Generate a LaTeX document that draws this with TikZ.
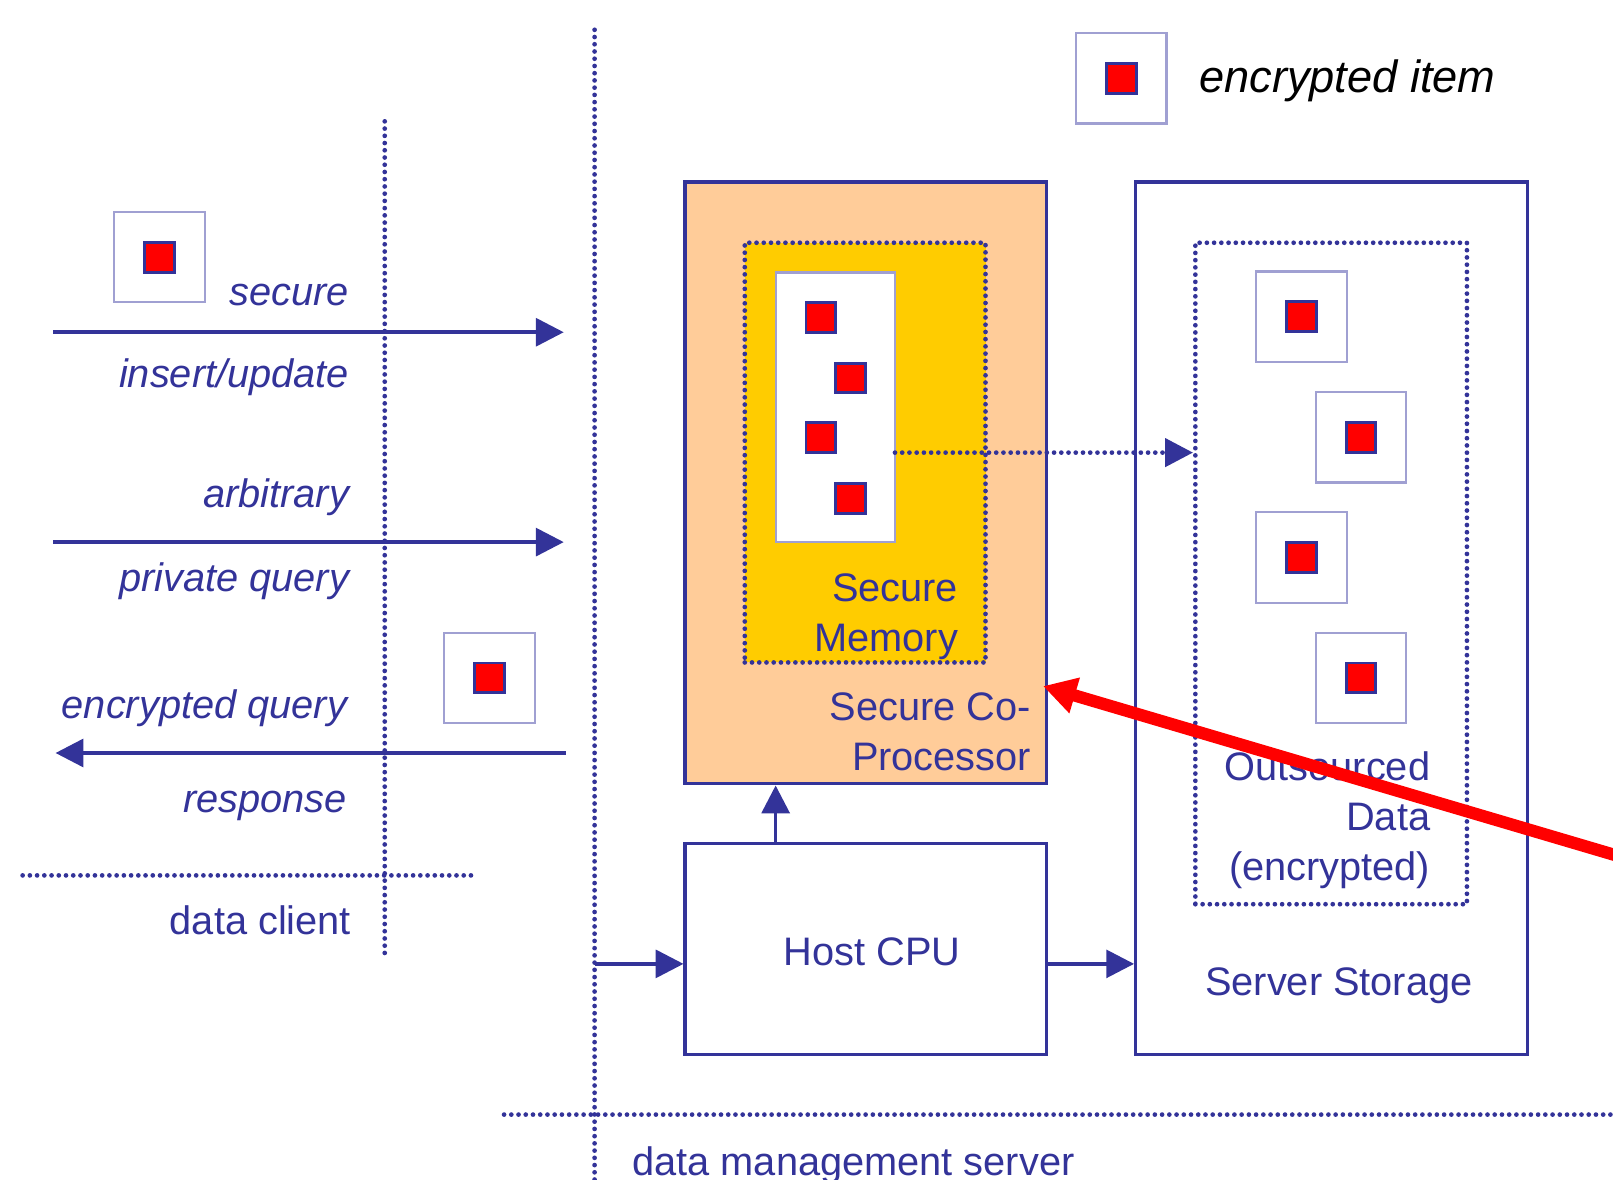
\documentclass[tikz,border=0pt]{standalone}
\usepackage{fontspec}
\setmainfont{Liberation Sans}
\usetikzlibrary{arrows.meta, positioning, calc}

\definecolor{navy}{RGB}{51,51,153}
\definecolor{peach}{RGB}{255,204,153}
\definecolor{gold}{RGB}{255,204,0}
\definecolor{itemedge}{RGB}{160,160,210}
\newcommand{\diagsize}{\fontsize{11pt}{13.8pt}\selectfont}

\begin{document}
\begin{tikzpicture}[
  every node/.style={text=navy, inner sep=0pt, font=\diagsize},
  unit/.style={draw=navy, line width=0.9pt, fill=white},
  region/.style={draw=navy, line width=1.3pt, line cap=round, dash pattern=on 0pt off 2pt},
  item/.style={draw=itemedge, line width=0.6pt, fill=white,
               minimum width=8.8mm, minimum height=8.8mm},
  cipher/.style={draw=navy, line width=0.8pt, fill=red, minimum size=2.9mm},
  tag/.style={font=\diagsize\itshape},
  divider/.style={navy, line width=1.3pt, line cap=round, dash pattern=on 0pt off 2pt},
  arr/.style={-{Triangle[length=2.7mm, width=2.7mm]}, navy, line width=1pt},
  dotarr/.style={arr, line width=1.3pt, line cap=round, dash pattern=on 0pt off 2pt},
  redarr/.style={-{Triangle[length=3.2mm, width=3.4mm]}, red, line width=3.4pt},
]
\useasboundingbox (0,0) rectangle (15.68,11.47);

% --- tier boundaries: client | server, and the two tier names ---
\draw[divider] (5.78,11.18) -- (5.78,0);
\draw[divider] (3.74,10.29) -- (3.74,2.15);
\draw[divider] (0.22,2.96) -- (4.63,2.96);
\draw[divider] (4.90,0.635) -- (15.68,0.635);
\node[anchor=base east] (client) at (3.42,2.39) {data client};
\node[anchor=base west] (server) at (6.14,0.04) {data management server};

% --- legend ---
\node[item] (legbox) at (10.90,10.71) {};
\node[cipher] (legkey) at (legbox) {};
\node[font=\fontsize{12.5pt}{15pt}\selectfont\itshape, text=black, anchor=base west]
  (legtext) at (11.65,10.57) {encrypted item};

% --- client requests and the response ---
\node[item] (upbox) at (1.55,8.97) {};
\node[cipher] (upkey) at (upbox) {};
\node[tag, anchor=base east] (secure) at (3.40,8.50) {secure};
\node[tag, anchor=base east] (insert) at (3.40,7.70) {insert/update};
\node[tag, anchor=base east] (arbitrary) at (3.40,6.54) {arbitrary};
\node[tag, anchor=base east] (private) at (3.40,5.72) {private query};
\node[item] (qbox) at (4.76,4.88) {};
\node[cipher] (qkey) at (qbox) {};
\node[tag, anchor=base east] (encq) at (3.38,4.49) {encrypted query};
\node[tag, anchor=base east] (resp) at (3.38,3.57) {response};

\coordinate (up0) at (0.52,8.24);
\coordinate (up1) at (5.48,8.24);
\coordinate (q0) at (0.52,6.20);
\coordinate (q1) at (5.48,6.20);
\coordinate (r0) at (5.50,4.15);
\coordinate (r1) at (0.54,4.15);
\draw[arr] (up0) -- (up1);
\draw[arr] (q0) -- (q1);
\draw[arr] (r0) -- (r1);

% --- secure co-processor with its memory ---
\node[unit, fill=peach, minimum width=3.51cm, minimum height=5.85cm] (cop) at (8.415,6.775) {};
\node[region, fill=gold, minimum width=2.34cm, minimum height=4.08cm] (mem) at (8.41,7.07) {};
\node[item, minimum width=1.16cm, minimum height=2.62cm] (slots) at (8.12,7.51) {};
\node[cipher] (s1) at (7.98,8.385) {};
\node[cipher] (s2) at (8.27,7.795) {};
\node[cipher] (s3) at (7.98,7.215) {};
\node[cipher] (s4) at (8.27,6.625) {};
\node[anchor=north east, align=right] (memtext) at (9.32,5.90) {Secure\\Memory};
\node[anchor=north east, align=right] (coptext) at (10.03,4.74) {Secure Co-\\Processor};

% --- host and storage ---
\node[unit, minimum width=3.51cm, minimum height=2.05cm] (cpu) at (8.415,2.245) {};
\node (cputext) at (8.48,2.22) {Host CPU};
\node[unit, minimum width=3.81cm, minimum height=8.48cm] (store) at (12.945,5.46) {};
\node[anchor=base] (storetext) at (13.015,1.79) {Server Storage};
\node[region, minimum width=2.64cm, minimum height=6.43cm] (outs) at (12.94,5.895) {};
\node[item] (o1) at (12.65,8.39) {};
\node[cipher] (k1) at (o1) {};
\node[item] (o2) at (13.23,7.22) {};
\node[cipher] (k2) at (o2) {};
\node[item] (o3) at (12.65,6.05) {};
\node[cipher] (k3) at (o3) {};
\node[item] (o4) at (13.23,4.88) {};
\node[cipher] (k4) at (o4) {};
\node[anchor=north east, align=right] (outtext) at (13.91,4.17) {Outsourced\\Data\\(encrypted)};

% --- server wiring ---
\coordinate (gate) at (5.78,2.10);
\draw[arr] (gate) -- (gate -| cpu.west);
\draw[arr] (gate -| cpu.east) -- (gate -| store.west);
\coordinate (lift) at (7.54,3.27);
\draw[arr] (lift) -- (lift |- cop.south);
\coordinate (spill) at (8.70,7.07);
\draw[dotarr] (spill) -- (spill -| outs.west);

% --- pointer onto the co-processor ---
\coordinate (pointer) at (16.2,3.01);
\coordinate (hit) at (10.14,4.80);
\draw[redarr] (pointer) -- (hit);

\end{tikzpicture}
\end{document}
